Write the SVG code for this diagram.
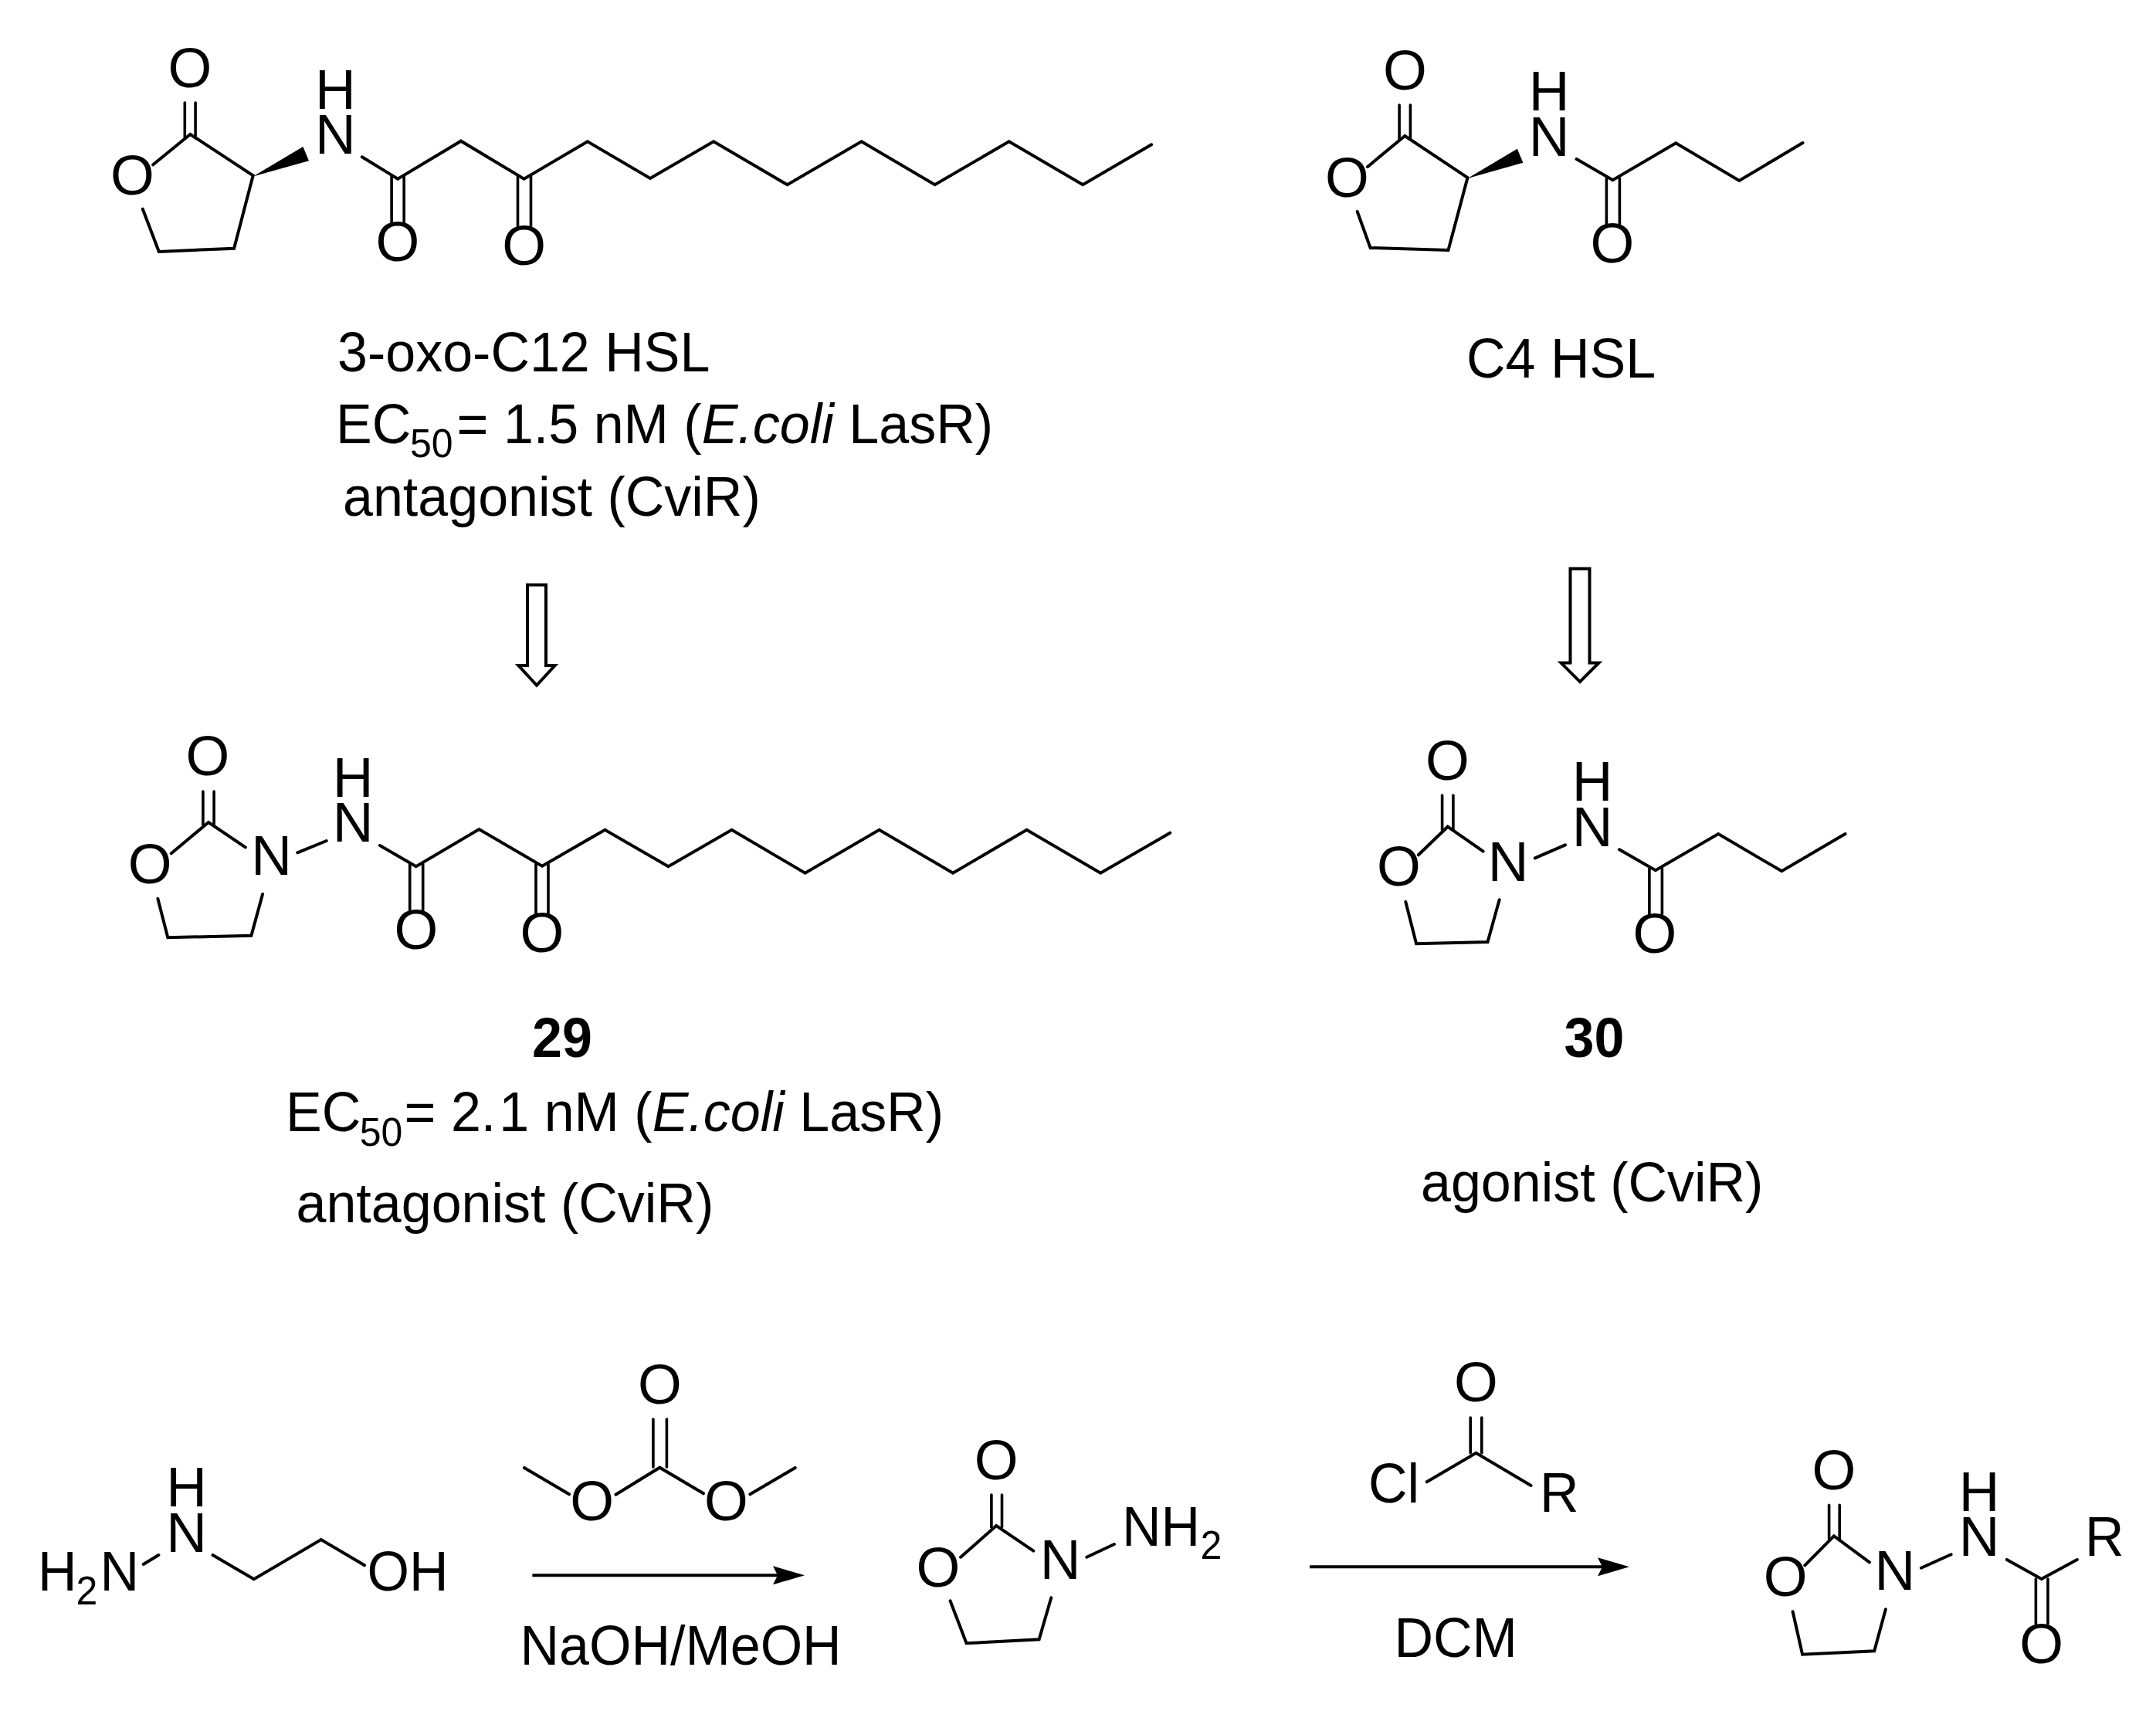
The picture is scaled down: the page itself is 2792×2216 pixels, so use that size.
<svg xmlns="http://www.w3.org/2000/svg" width="2792" height="2216" viewBox="0 0 2792 2216">
<style>
.b{fill:none;stroke:#000;stroke-width:4;stroke-linecap:round;stroke-linejoin:miter}
.d{fill:none;stroke:#000;stroke-width:3.6;stroke-linecap:round}
.w{fill:#000;stroke:none}
text{font-family:"Liberation Sans",Arial,sans-serif;font-size:70px;fill:#000}
text.m{text-anchor:middle;font-size:73px}
.s{font-size:50px}
.i{font-style:italic}
.bold{font-weight:bold}
.hollow{fill:#fff;stroke:#000;stroke-width:4;stroke-linejoin:miter}
.rxn{fill:none;stroke:#000;stroke-width:4;marker-end:url(#head)}
</style>
<defs>
<marker id="head" markerUnits="userSpaceOnUse" markerWidth="42" markerHeight="24" viewBox="0 0 42 24" refX="33" refY="12" orient="auto">
<path d="M0 0L41 12L0 24L6 12Z" fill="#000"/>
</marker>
</defs>
<rect width="2792" height="2216" fill="#fff"/>

<g id="mol-3-oxo-c12-hsl">
<path class="b" d="M198.2 213.3L246.4 174L327.7 227.3L303.1 321.7L205.8 326L184.8 270.7"/>
<path class="d" d="M239.3 133V178M253.1 133V178"/>
<polygon class="w" points="327.7,228.5 392.4,190 400,208.3"/>
<path class="b" d="M468.8 203.3L515.2 231.7L596.9 182.7L678.6 231.7L760.9 183.3L842 231L924.1 183.3L1019.6 239.3L1115.6 183.3L1210.6 239.3L1306.7 183.3L1402.2 239.3L1491.2 187.3"/>
<path class="d" d="M507.1 228V288M523.2 228V288M670.5 228V293M687.5 228V293"/>
<text class="m" x="246" y="112.5">O</text>
<text class="m" x="171.4" y="252">O</text>
<text class="m" x="434.4" y="140.7">H</text>
<text class="m" x="434.4" y="199">N</text>
<text class="m" x="515" y="338">O</text>
<text class="m" x="678.6" y="343">O</text>
</g>
<g id="label-3-oxo-c12-hsl">
<text transform="translate(437,481) scale(1,1.04)">3-oxo-C12 HSL</text>
<text transform="translate(0,574) scale(1,1.04)"><tspan x="435" y="0">EC</tspan><tspan class="s" x="531" y="17.3">50</tspan><tspan x="591.6" y="0">= 1.5 nM (</tspan><tspan class="i">E.coli</tspan><tspan> LasR)</tspan></text>
<text transform="translate(444,668) scale(1,1.04)">antagonist (CviR)</text>
</g>

<g id="mol-c4-hsl">
<path class="b" d="M1771 216L1819.3 176L1900.5 230L1875.5 324L1774.6 321L1757.7 274"/>
<path class="d" d="M1812.1 136V180M1826.4 136V180"/>
<polygon class="w" points="1900.5,231 1964.8,192.7 1972.4,210.7"/>
<path class="b" d="M2041.6 206L2088.5 233.3L2170.2 185.3L2252.3 234L2334.5 185"/>
<path class="d" d="M2080.4 231V290M2097.4 231V290"/>
<text class="m" x="1819.3" y="116">O</text>
<text class="m" x="1744.3" y="255">O</text>
<text class="m" x="2006" y="142.7">H</text>
<text class="m" x="2006" y="202">N</text>
<text class="m" x="2088" y="339.5">O</text>
</g>
<g id="label-c4-hsl">
<text transform="translate(1899,489) scale(1,1.04)">C4 HSL</text>
</g>

<g id="mol-29">
<path class="b" d="M221.8 1105.3L270 1065L317.8 1097.3M340.1 1158L325.4 1211.7L217.3 1214.3L204.4 1164M385.2 1104.3L422.7 1089"/>
<path class="d" d="M262.9 1025V1068M277.1 1025V1068"/>
<path class="b" d="M491.9 1095L538.8 1122.3L620.4 1074L702.1 1121.7L783.4 1074.7L865.5 1122.3L947.6 1074.7L1042.6 1130.7L1138.6 1074.7L1234.1 1130.7L1329.6 1074.7L1425.2 1130.7L1515.2 1078.7"/>
<path class="d" d="M530.7 1119V1179M547.7 1119V1179M694 1119V1184M710 1119V1184"/>
<text class="m" x="269" y="1003.5">O</text>
<text class="m" x="194.1" y="1143.5">O</text>
<text class="m" x="351.5" y="1133.3">N</text>
<text class="m" x="457" y="1031.7">H</text>
<text class="m" x="457" y="1090">N</text>
<text class="m" x="538.8" y="1228.5">O</text>
<text class="m" x="702" y="1233">O</text>
</g>
<g id="label-29">
<text class="bold" transform="translate(689,1369) scale(1,1.04)">29</text>
<text transform="translate(0,1465) scale(1,1.04)"><tspan x="370" y="0">EC</tspan><tspan class="s" x="465.7" y="18.3">50</tspan><tspan x="523.6" y="0">= 2.</tspan><tspan dx="4">1 nM (</tspan><tspan class="i">E.coli</tspan><tspan> LasR)</tspan></text>
<text transform="translate(383.5,1583) scale(1,1.04)">antagonist (CviR)</text>
</g>

<g id="mol-30">
<path class="b" d="M1836.8 1107.3L1874.7 1070.7L1920.7 1102.7M1941.7 1165.3L1926.5 1220L1834.1 1222.3L1820.3 1168M1987.7 1111.3L2027 1094.3"/>
<path class="d" d="M1867.6 1030V1075M1881.9 1030V1075"/>
<path class="b" d="M2097 1100.3L2143.9 1127.3L2225.2 1080L2307.3 1128.3L2389.5 1080"/>
<path class="d" d="M2135.9 1125V1184M2152.4 1125V1184"/>
<text class="m" x="1874.3" y="1009.5">O</text>
<text class="m" x="1811.3" y="1146.5">O</text>
<text class="m" x="1953" y="1140.7">N</text>
<text class="m" x="2062" y="1036.7">H</text>
<text class="m" x="2062" y="1095.7">N</text>
<text class="m" x="2143" y="1233.5">O</text>
</g>
<g id="label-30">
<text class="bold" transform="translate(2025.5,1369.3) scale(1,1.04)">30</text>
<text transform="translate(1840,1555.7) scale(1,1.04)">agonist (CviR)</text>
</g>

<g id="mol-hydrazinoethanol">
<path class="b" d="M185.7 2026L205.4 2014M275.5 2014L328.8 2045.3L415.8 1994L472 2027.3"/>
<text transform="translate(0,2060) scale(1,1.04)"><tspan x="49" y="0">H</tspan><tspan class="s" x="98.5" y="17.3">2</tspan><tspan x="129.5" y="0">N</tspan></text>
<text class="m" x="241.5" y="1950.7">H</text>
<text class="m" x="241.5" y="2010">N</text>
<text transform="translate(475.6,2060) scale(1,1.04)">OH</text>
</g>

<g id="mol-dimethyl-carbonate">
<path class="b" d="M678.9 1901L737.1 1935.3M797.4 1935.7L854.3 1900.7L911 1934.3M971.4 1935.3L1029.7 1901"/>
<path class="d" d="M845.9 1838V1900M863.4 1838V1900"/>
<text class="m" x="854.3" y="1817.5">O</text>
<text class="m" x="766.6" y="1968.5">O</text>
<text class="m" x="940.5" y="1968.5">O</text>
</g>
<text id="label-naoh" transform="translate(673.5,2155.5) scale(1,1.04)">NaOH/MeOH</text>

<g id="mol-aminooxazolidinone">
<path class="b" d="M1244.1 2016.7L1290.2 1976L1338.3 2008.7M1361.3 2069.3L1345.6 2123.3L1251.5 2128.3L1230.5 2073.3M1407.3 2016.7L1442.9 2000"/>
<path class="d" d="M1283.9 1936V1978M1297.5 1936V1978"/>
<text class="m" x="1290.2" y="1915.5">O</text>
<text class="m" x="1214.9" y="2054.5">O</text>
<text class="m" x="1373" y="2044.7">N</text>
<text transform="translate(0,2002) scale(1,1.04)"><tspan x="1453" y="0">NH</tspan><tspan class="s" x="1554.5" y="16.6">2</tspan></text>
</g>

<g id="mol-acyl-chloride">
<path class="b" d="M1847.7 1919.3L1911.5 1881.7L1982.6 1924"/>
<path class="d" d="M1904.2 1836V1881.7M1918.8 1836V1881.7"/>
<text class="m" x="1911.5" y="1815">O</text>
<text transform="translate(1772,1946) scale(1,1.04)">Cl</text>
<text transform="translate(1994,1957.7) scale(1,1.04)">R</text>
</g>
<text id="label-dcm" transform="translate(1805.5,2145.5) scale(1,1.04)">DCM</text>

<g id="mol-product">
<path class="b" d="M2337.3 2027.3L2374.9 1989.3L2420.9 2023.3M2441.9 2084.3L2427.2 2138.3L2334.1 2142.7L2321.6 2087.3M2487.9 2030.7L2526.6 2013.3M2598.8 2020L2643.7 2045L2689.8 2020"/>
<path class="d" d="M2368.6 1949.3V1993M2382.2 1949.3V1993M2636.4 2045V2103.3M2652 2045V2103.3"/>
<text class="m" x="2374.9" y="1928.5">O</text>
<text class="m" x="2312.1" y="2067">O</text>
<text class="m" x="2453.8" y="2059.3">N</text>
<text class="m" x="2563" y="1956.7">H</text>
<text class="m" x="2563" y="2014.7">N</text>
<text transform="translate(2700,2015) scale(1,1.04)">R</text>
<text class="m" x="2643.7" y="2153.5">O</text>
</g>

<g id="connectors">
<path class="hollow" d="M683 757.5H707V862H718.5L695 887.5L671.5 862H683Z"/>
<path class="hollow" d="M2033.5 736.5H2058.5V858.5H2070.5L2046 883L2021.5 858.5H2033.5Z"/>
<line class="rxn" x1="689.4" y1="2040.3" x2="1034" y2="2040.3"/>
<line class="rxn" x1="1696" y1="2029.3" x2="2102" y2="2029.3"/>
</g>
</svg>
